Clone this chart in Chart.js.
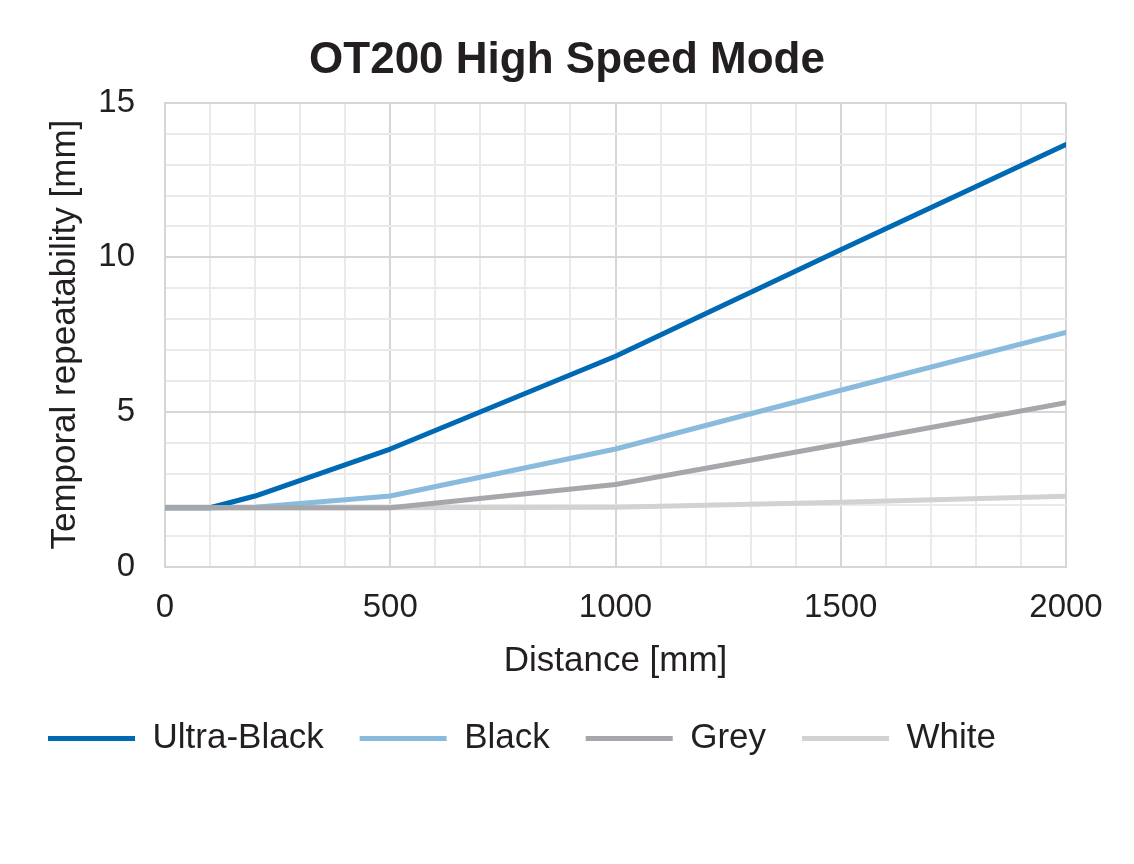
<!DOCTYPE html>
<html>
<head>
<meta charset="utf-8">
<title>OT200 High Speed Mode</title>
<script src="https://cdn.jsdelivr.net/npm/chart.js@4/dist/chart.umd.min.js"></script>
<style>
    html, body { margin: 0; padding: 0; background: #ffffff; }
    #wrap { width: 1134px; height: 864px; }
</style>
</head>
<body>
<div id="wrap"><canvas id="repeatChart" width="1134" height="864"></canvas></div>
<script>
// OT200 temporal repeatability vs distance

// Data
const distances = [0, 100, 200, 500, 1000, 1500, 2000];
const ultraBlack = [1.9, 1.9, 2.28, 3.8, 6.8, 10.25, 13.65];
const black = [1.9, 1.9, 1.92, 2.28, 3.8, 5.7, 7.57];
const grey = [1.9, 1.9, 1.9, 1.9, 2.65, 3.96, 5.3];
const white = [1.9, 1.9, 1.9, 1.9, 1.92, 2.08, 2.27];

const seriesNames = ['Ultra-Black', 'Black', 'Grey', 'White'];
const xLabelTicks = [0, 500, 1000, 1500, 2000];
const yLabelTicks = [0, 5, 10, 15];

// Styling
const FONT = "'Liberation Sans', Arial, sans-serif";
const TEXT_COLOR = '#231f20';
const GRID_MAJOR = '#d6d6d6';
const GRID_MINOR = '#eaeaea';
const LINE_COLORS = ['#0069b4', '#89bbdc', '#a6a7ab', '#d2d2d2'];
// drawing order: lower number is drawn on top
const DRAW_ORDER = [2, 1, 0, 3];

function toPoints(values) {
    return distances.map((d, i) => ({ x: d, y: values[i] }));
}

const allValues = [ultraBlack, black, grey, white];

const datasets = seriesNames.map((name, i) => ({
    label: name,
    data: toPoints(allValues[i]),
    borderColor: LINE_COLORS[i],
    backgroundColor: LINE_COLORS[i],
    borderWidth: 5,
    pointRadius: 0,
    pointHoverRadius: 0,
    tension: 0,
    borderCapStyle: 'round',
    borderJoinStyle: 'round',
    fill: false,
    order: DRAW_ORDER[i],
    pointStyle: 'line'
}));

const ctx = document.getElementById('repeatChart').getContext('2d');
const repeatChart = new Chart(ctx, {
    type: 'line',
    data: { datasets: datasets },
    options: {
        responsive: false,
        animation: false,
        devicePixelRatio: 1,
        layout: {
            padding: { left: 12, right: 12, top: 0, bottom: 98 }
        },
        plugins: {
            title: {
                display: true,
                text: 'OT200 High Speed Mode',
                color: TEXT_COLOR,
                font: { family: FONT, size: 44, weight: 'bold' },
                padding: { top: 34, bottom: 16 }
            },
            legend: {
                display: true,
                position: 'bottom',
                align: 'start',
                labels: {
                    usePointStyle: true,
                    pointStyleWidth: 87,
                    color: TEXT_COLOR,
                    padding: 36,
                    font: { family: FONT, size: 35 },
                    sort: (a, b) => a.datasetIndex - b.datasetIndex
                }
            },
            tooltip: { enabled: false }
        },
        scales: {
            x: {
                type: 'linear',
                min: 0,
                max: 2000,
                afterFit: function(scale) { scale.height = 118.5; },
                ticks: {
                    stepSize: 100,
                    autoSkip: false,
                    maxRotation: 0,
                    padding: 22,
                    color: TEXT_COLOR,
                    font: { family: FONT, size: 33 },
                    callback: function(value) {
                        return xLabelTicks.includes(value) ? String(value) : '';
                    }
                },
                grid: {
                    drawTicks: false,
                    lineWidth: 2,
                    color: function(c) {
                        return c.tick && c.tick.value % 500 === 0 ? GRID_MAJOR : GRID_MINOR;
                    }
                },
                border: { display: true, color: GRID_MAJOR, width: 2 },
                title: {
                    display: true,
                    text: 'Distance [mm]',
                    color: TEXT_COLOR,
                    font: { family: FONT, size: 35 },
                    padding: { top: 0, bottom: 3 }
                }
            },
            y: {
                type: 'linear',
                min: 0,
                max: 15,
                afterFit: function(scale) { scale.width = 153; },
                ticks: {
                    stepSize: 1,
                    autoSkip: false,
                    padding: 30,
                    color: TEXT_COLOR,
                    font: { family: FONT, size: 33 },
                    callback: function(value) {
                        return yLabelTicks.includes(value) ? String(value) : '';
                    }
                },
                grid: {
                    drawTicks: false,
                    lineWidth: 2,
                    color: function(c) {
                        return c.tick && c.tick.value % 5 === 0 ? GRID_MAJOR : GRID_MINOR;
                    }
                },
                border: { display: true, color: GRID_MAJOR, width: 2 },
                title: {
                    display: true,
                    text: 'Temporal repeatability [mm]',
                    color: TEXT_COLOR,
                    font: { family: FONT, size: 35 },
                    padding: { top: 32, bottom: 0 }
                }
            },
            // empty right-hand spacer so the title stays centred on the page
            spacer: {
                type: 'linear',
                position: 'right',
                min: 0,
                max: 15,
                afterFit: function(scale) { scale.width = 56; },
                ticks: { display: false },
                grid: { display: false, drawTicks: false },
                border: { display: false }
            }
        }
    }
});
</script>
</body>
</html>
